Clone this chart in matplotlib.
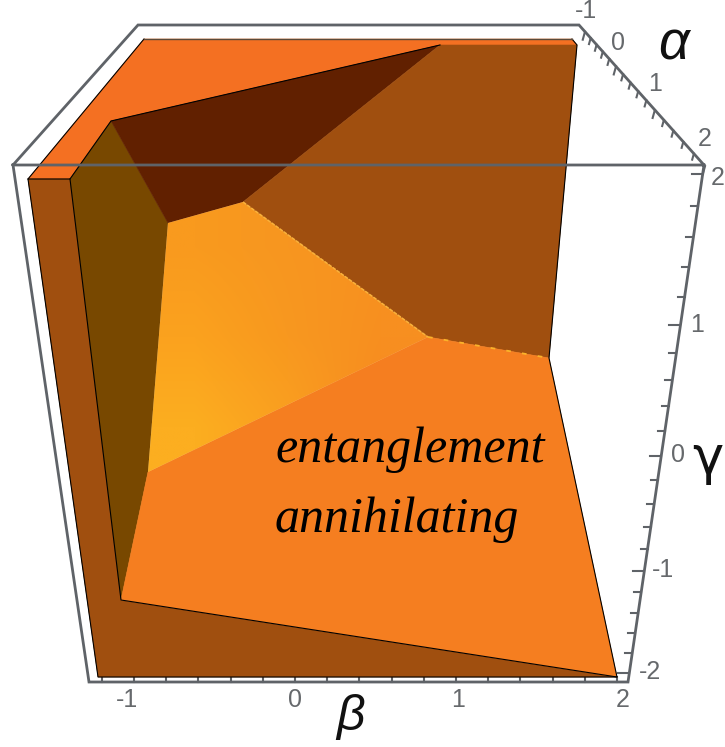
import numpy as np
import matplotlib
matplotlib.use("Agg")
import matplotlib.pyplot as plt
from matplotlib.patches import Polygon

# Facet outlines in image coordinates
top_face = [(144, 39), (572, 39), (577, 45), (440, 45), (111, 121), (70, 179), (28, 179)]
left_rim = [(28, 179), (70, 179), (121, 600), (617, 677), (98, 677)]
olive_wall = [(70, 179), (111, 121), (168, 223), (148, 472), (121, 600)]
dark_wall = [(111, 121), (440, 45), (243, 202), (168, 223)]
back_wall = [(440, 45), (577, 45), (549, 358), (428, 337), (243, 202)]
bright_face = [(168, 223), (243, 202), (428, 337), (148, 472)]
main_face = [(148, 472), (428, 337), (549, 358), (617, 677), (121, 600)]

facet_list = [top_face, left_rim, olive_wall, dark_wall, back_wall, main_face]
facet_colors = ["#f47022", "#a04f0f", "#784800", "#612000", "#a04f0f", "#f57e20"]

bright_shades = [["#f99a1e", "#f79620", "#f79220"],
                 ["#fba21e", "#f8981f", "#f78f20"],
                 ["#fcae20", "#faa01f", "#f78a20"]]

crease_a = [(243, 202), (428, 337)]
crease_b = [(428, 337), (549, 358)]

outline_edges = [
    [(144, 39), (28, 179), (98, 677), (617, 677)],
    [(28, 179), (70, 179), (111, 121), (440, 45)],
    [(70, 179), (121, 600), (617, 677), (549, 358), (577, 45), (572, 39)],
]
rear_edge = [(144, 39), (572, 39)]

# Bounding box frame
frame_lines = [
    [(13, 165), (138, 25), (579, 25), (704, 165), (628, 682), (89, 682), (13, 165), (704, 165)],
]

# Axis ticks
beta_major = [-1, 0, 1, 2]
beta_minor = [-1.2, -0.8, -0.6, -0.4, -0.2, 0.2, 0.4, 0.6, 0.8, 1.2, 1.4, 1.6, 1.8]
gamma_major = [-2, -1, 0, 1, 2]
gamma_minor = [-1.8, -1.6, -1.4, -1.2, -0.8, -0.6, -0.4, -0.2, 0.2, 0.4, 0.6, 0.8, 1.2, 1.4, 1.6, 1.8]
alpha_major = [-1, 0, 1, 2]
alpha_minor = [-0.8, -0.6, -0.4, -0.2, 0.2, 0.4, 0.6, 0.8, 1.2, 1.4, 1.6, 1.8]

beta_labels = [("-1", 127, 700), ("0", 295, 700), ("1", 458, 700), ("2", 623, 700)]
gamma_labels = [("2", 718, 178), ("1", 697, 325), ("0", 678, 455), ("-1", 663, 570), ("-2", 650, 672)]
alpha_labels = [("-1", 586, 11), ("0", 618, 43), ("1", 655, 84), ("2", 705, 139)]
annotation_lines = [("entanglement", 275, 462), ("annihilating", 275, 532)]

GREY = "#5f6368"
TICK_GREY = "#66696c"
SANS = "Liberation Sans"


def beta_pos(b):
    return 295 + 161 * b, 682


def gamma_pos(g):
    y = (-152.1 * g + 456) / (-0.065 * g + 1)
    return 704 - (y - 165) * 76 / 517, y


def alpha_pos(a):
    x = (-34.8 * a + 616) / (-0.1125 * a + 1)
    return x, 25 + (x - 579) * 140 / 125


fig = plt.figure(figsize=(7.25, 7.47), dpi=100, facecolor="white")
ax = fig.add_axes([0, 0, 1, 1])

for pts, col in zip(facet_list, facet_colors):
    ax.add_patch(Polygon(pts, closed=True, facecolor=col, edgecolor=col, lw=0.4, zorder=2))

rgb = np.array([[matplotlib.colors.to_rgb(c) for c in row] for row in bright_shades])
xs, ys = zip(*bright_face)
im = ax.imshow(rgb, extent=(min(xs), max(xs), max(ys), min(ys)), interpolation="bilinear",
               aspect="auto", zorder=2.5)
clip = Polygon(bright_face, closed=True, facecolor="none", edgecolor="none", transform=ax.transData)
ax.add_patch(clip)
im.set_clip_path(clip)

cx, cy = zip(*crease_a)
ax.plot(cx, cy, color="#f9b13a", lw=1.1, ls=(0, (2.5, 0.8)), zorder=3)
cx, cy = zip(*crease_b)
ax.plot(cx, cy, color="#fbb32a", lw=1.3, ls=(0, (2.6, 6.2)), zorder=3)

for edge in outline_edges:
    ex, ey = zip(*edge)
    ax.plot(ex, ey, color="black", lw=0.8, zorder=4, solid_joinstyle="miter")
ex, ey = zip(*rear_edge)
ax.plot(ex, ey, color="#5b4a3a", lw=1.0, zorder=4)

for line in frame_lines:
    fx, fy = zip(*line)
    ax.plot(fx, fy, color=GREY, lw=2.0, zorder=5, solid_joinstyle="miter")

for vals, length in ((beta_major, 5), (beta_minor, 5)):
    for v in vals:
        x, y = beta_pos(v)
        ax.plot([x, x], [y, y - length], color=GREY, lw=1.5, zorder=1)
for vals, length in ((gamma_major, 11), (gamma_minor, 7)):
    for v in vals:
        x, y = gamma_pos(v)
        ax.plot([x, x - length], [y, y], color=GREY, lw=1.5, zorder=1)
for vals, length in ((alpha_major, 8), (alpha_minor, 6)):
    for v in vals:
        x, y = alpha_pos(v)
        ax.plot([x, x - 0.28 * length], [y, y + length], color=GREY, lw=1.5, zorder=1)

for group in (beta_labels, gamma_labels, alpha_labels):
    for s, x, y in group:
        ax.text(x, y, s, family=SANS, fontsize=18, color=TICK_GREY, ha="center", va="center", zorder=6)

ax.text(674, 45, "α", family=SANS, style="italic", fontsize=39, color="#111111", ha="center", va="center", zorder=6)
ax.text(351, 717, "β", family=SANS, style="italic", fontsize=36, color="#111111", ha="center", va="center", zorder=6)
ax.text(708, 459, "γ", family="DejaVu Sans", fontsize=38, color="#111111", ha="center", va="center", zorder=6)

for s, x, y in annotation_lines:
    ax.text(x, y, s, family="Liberation Serif", style="italic", fontsize=36, color="black",
            ha="left", va="baseline", zorder=6)

ax.set_xlim(0, 725)
ax.set_ylim(747, 0)
ax.axis("off")
fig.savefig("out.png", dpi=100, facecolor="white")
